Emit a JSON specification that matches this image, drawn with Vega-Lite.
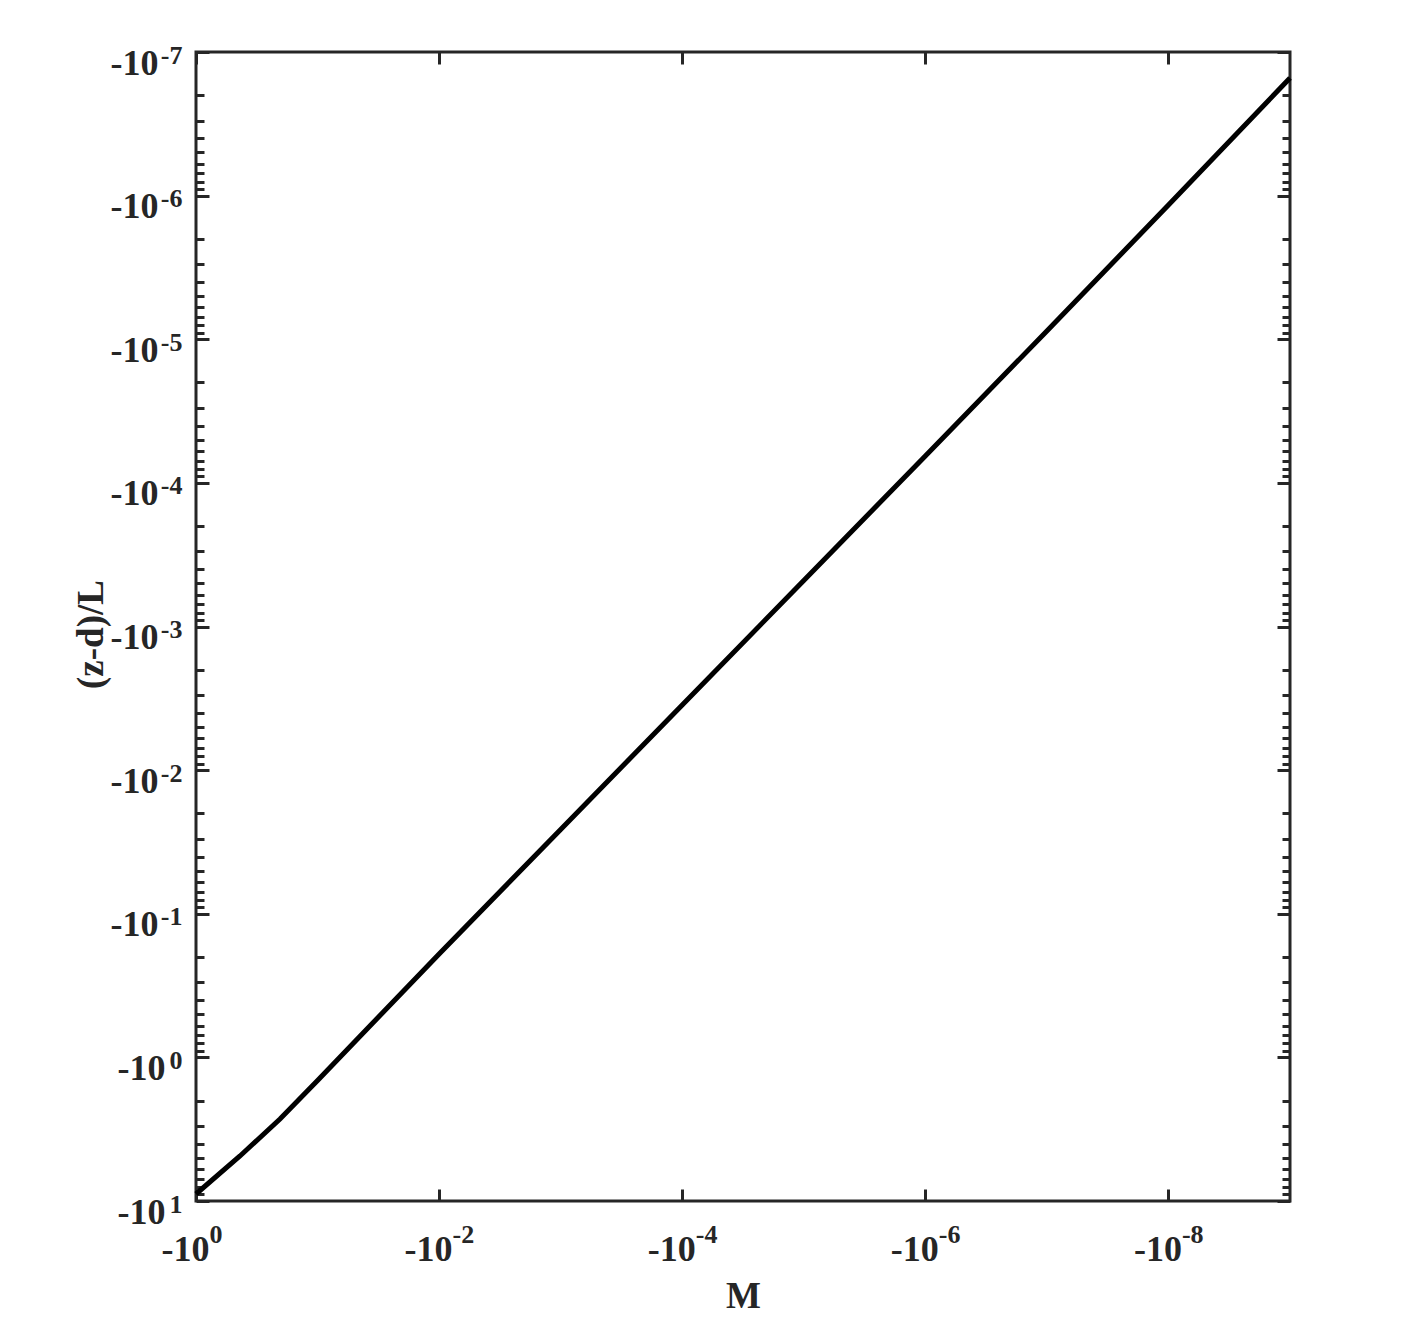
{
  "$schema": "https://vega.github.io/schema/vega-lite/v6.json",
  "width": 1094,
  "height": 1149,
  "autosize": {"type": "none"},
  "padding": {"left": 196, "top": 52, "right": 132, "bottom": 120},
  "background": "white",
  "config": {
    "view": {"stroke": "#262626", "strokeWidth": 3},
    "axis": {
      "labelFont": "Liberation Serif",
      "labelFontWeight": "bold",
      "labelColor": "#262626",
      "titleFont": "Liberation Serif",
      "titleFontWeight": "bold",
      "titleColor": "#262626",
      "grid": false,
      "domain": false,
      "tickColor": "#262626",
      "tickWidth": 3,
      "labelOverlap": false,
      "labelFlush": false,
      "labelBound": false
    }
  },
  "data": {
    "values": [
      {"M": -1, "zdL": -8.94},
      {"M": -0.4345, "zdL": -4.86},
      {"M": -0.2037, "zdL": -2.686},
      {"M": -0.1, "zdL": -1.449},
      {"M": -0.0392, "zdL": -0.6345},
      {"M": -0.01, "zdL": -0.1906},
      {"M": -0.001, "zdL": -0.0259},
      {"M": -0.0001, "zdL": -0.003519},
      {"M": -0.00001, "zdL": -0.000478},
      {"M": -0.000001, "zdL": -0.000065},
      {"M": -0.0000001, "zdL": -0.00000876},
      {"M": -0.00000001, "zdL": -0.000001162},
      {"M": -0.000000001, "zdL": -0.0000001517}
    ]
  },
  "resolve": {"axis": {"x": "independent", "y": "independent"}},
  "layer": [
    {
      "mark": {"type": "line", "color": "black", "strokeWidth": 5},
      "encoding": {
        "x": {
          "field": "M", "type": "quantitative",
          "scale": {"type": "log", "domain": [-1, -0.000000001], "nice": false},
          "axis": {
            "orient": "bottom", "title": "M", "titleFontSize": 37, "titleY": 106, "titleBaseline": "alphabetic",
            "values": [-1, -0.01, -0.0001, -0.000001, -0.00000001],
            "ticks": false, "tickSize": 0,
            "labelExpr": "'-10'", "labelFontSize": 36, "labelAlign": "right", "labelBaseline": "alphabetic",
            "labelPadding": 59, "labelOffset": 13
          }
        },
        "y": {
          "field": "zdL", "type": "quantitative",
          "scale": {"type": "log", "domain": [-10, -0.0000001], "nice": false},
          "axis": {
            "orient": "left", "title": "(z-d)/L", "titleFontSize": 37, "titleX": -94, "titleY": 582, "titleBaseline": "alphabetic",
            "values": [-10, -1, -0.1, -0.01, -0.001, -0.0001, -0.00001, -0.000001, -0.0000001],
            "ticks": false, "tickSize": 0,
            "labelExpr": "'-10'", "labelFontSize": 36, "labelAlign": "right", "labelBaseline": "alphabetic",
            "labelPadding": {"condition": {"test": "datum.value < -0.5", "value": 31}, "value": 38},
            "labelOffset": 22
          }
        }
      }
    },
    {
      "mark": {"type": "line", "strokeOpacity": 0},
      "encoding": {
        "x": {
          "field": "M", "type": "quantitative",
          "scale": {"type": "log", "domain": [-1, -0.000000001], "nice": false},
          "axis": {
            "orient": "bottom", "title": null,
            "values": [-1, -0.01, -0.0001, -0.000001, -0.00000001],
            "ticks": false, "tickSize": 0,
            "labelExpr": "'' + round(log(-datum.value)/LN10)", "labelFontSize": 26, "labelAlign": "left", "labelBaseline": "alphabetic",
            "labelPadding": 41, "labelOffset": 13
          }
        },
        "y": {
          "field": "zdL", "type": "quantitative",
          "scale": {"type": "log", "domain": [-10, -0.0000001], "nice": false},
          "axis": {
            "orient": "left", "title": null,
            "values": [-10, -1, -0.1, -0.01, -0.001, -0.0001, -0.00001, -0.000001, -0.0000001],
            "ticks": false, "tickSize": 0,
            "labelExpr": "'' + round(log(-datum.value)/LN10)", "labelFontSize": 26, "labelAlign": "right", "labelBaseline": "alphabetic",
            "labelPadding": 14, "labelOffset": 11
          }
        }
      }
    },
    {
      "mark": {"type": "line", "strokeOpacity": 0},
      "encoding": {
        "x": {
          "field": "M", "type": "quantitative",
          "scale": {"type": "log", "domain": [-1, -0.000000001], "nice": false},
          "axis": {
            "orient": "bottom", "title": null, "labels": false,
            "values": [-1, -0.01, -0.0001, -0.000001, -0.00000001],
            "tickSize": -12
          }
        },
        "y": {
          "field": "zdL", "type": "quantitative",
          "scale": {"type": "log", "domain": [-10, -0.0000001], "nice": false},
          "axis": {
            "orient": "left", "title": null, "labels": false,
            "values": [-10, -9, -8, -7, -6, -5, -4, -3, -2, -1, -0.9, -0.8, -0.7, -0.6, -0.5, -0.4, -0.3, -0.2, -0.1, -0.09, -0.08, -0.07, -0.06, -0.05, -0.04, -0.03, -0.02, -0.01, -0.009, -0.008, -0.007, -0.006, -0.005, -0.004, -0.003, -0.002, -0.001, -0.0009, -0.0008, -0.0007, -0.0006, -0.0005, -0.0004, -0.0003, -0.0002, -0.0001, -0.00009, -0.00008, -0.00007, -0.00006, -0.00005, -0.00004, -0.00003, -0.00002, -0.00001, -0.000009, -0.000008, -0.000007, -0.000006, -0.000005, -0.000004, -0.000003, -0.000002, -0.000001, -0.0000009, -0.0000008, -0.0000007, -0.0000006, -0.0000005, -0.0000004, -0.0000003, -0.0000002, -0.0000001],
            "tickSize": {"condition": {"test": "abs(log(-datum.value)/LN10 - round(log(-datum.value)/LN10)) < 0.000001", "value": -13}, "value": -8}
          }
        }
      }
    },
    {
      "mark": {"type": "line", "strokeOpacity": 0},
      "encoding": {
        "x": {
          "field": "M", "type": "quantitative",
          "scale": {"type": "log", "domain": [-1, -0.000000001], "nice": false},
          "axis": {
            "orient": "top", "title": null, "labels": false,
            "values": [-1, -0.01, -0.0001, -0.000001, -0.00000001],
            "tickSize": -12
          }
        },
        "y": {
          "field": "zdL", "type": "quantitative",
          "scale": {"type": "log", "domain": [-10, -0.0000001], "nice": false},
          "axis": {
            "orient": "right", "title": null, "labels": false,
            "values": [-10, -9, -8, -7, -6, -5, -4, -3, -2, -1, -0.9, -0.8, -0.7, -0.6, -0.5, -0.4, -0.3, -0.2, -0.1, -0.09, -0.08, -0.07, -0.06, -0.05, -0.04, -0.03, -0.02, -0.01, -0.009, -0.008, -0.007, -0.006, -0.005, -0.004, -0.003, -0.002, -0.001, -0.0009, -0.0008, -0.0007, -0.0006, -0.0005, -0.0004, -0.0003, -0.0002, -0.0001, -0.00009, -0.00008, -0.00007, -0.00006, -0.00005, -0.00004, -0.00003, -0.00002, -0.00001, -0.000009, -0.000008, -0.000007, -0.000006, -0.000005, -0.000004, -0.000003, -0.000002, -0.000001, -0.0000009, -0.0000008, -0.0000007, -0.0000006, -0.0000005, -0.0000004, -0.0000003, -0.0000002, -0.0000001],
            "tickSize": {"condition": {"test": "abs(log(-datum.value)/LN10 - round(log(-datum.value)/LN10)) < 0.000001", "value": -13}, "value": -8}
          }
        }
      }
    }
  ]
}
